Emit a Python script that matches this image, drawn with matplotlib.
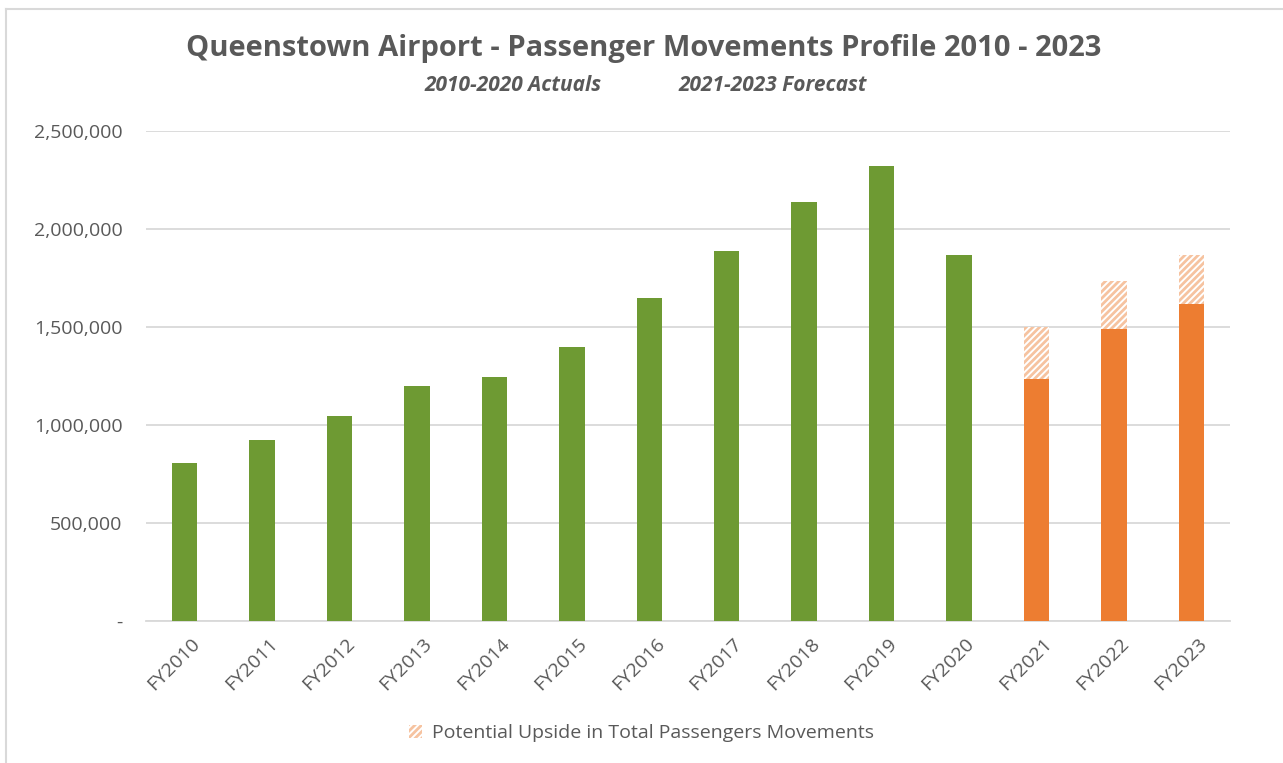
import matplotlib
matplotlib.use("Agg")
import matplotlib.pyplot as plt
import matplotlib.transforms as mtransforms
from matplotlib.lines import Line2D
from matplotlib.patches import Patch

categories = ["FY2010", "FY2011", "FY2012", "FY2013", "FY2014", "FY2015", "FY2016",
              "FY2017", "FY2018", "FY2019", "FY2020", "FY2021", "FY2022", "FY2023"]
actuals = [806000, 923000, 1046000, 1199000, 1245000, 1398000, 1648000,
           1888000, 2138000, 2321000, 1867000, 0, 0, 0]
forecast = [0, 0, 0, 0, 0, 0, 0, 0, 0, 0, 0, 1235000, 1490000, 1617000]
upside = [0, 0, 0, 0, 0, 0, 0, 0, 0, 0, 0, 265000, 245000, 250000]
yticks = [0, 500000, 1000000, 1500000, 2000000, 2500000]

plt.rcParams['font.family'] = ['Open Sans', 'DejaVu Sans']
plt.rcParams['hatch.linewidth'] = 2.0
plt.rcParams['hatch.color'] = '#F6C3A0'

GREEN = '#6E9A33'
ORANGE = '#ED7D31'
TEXT = '#595959'

fig = plt.figure(figsize=(12.83, 7.63), dpi=100)
ax = fig.add_axes([0.1138, 0.1861, 0.8449, 0.6422])

x = list(range(len(categories)))
w = 0.33
ax.bar(x, actuals, width=w, color=GREEN, zorder=3)
ax.bar(x, forecast, width=w, color=ORANGE, zorder=3)
ax.bar(x, upside, width=w, bottom=forecast, facecolor='white',
       edgecolor='#F6C3A0', hatch='/////', linewidth=0, zorder=3)

ax.set_xlim(-0.5, len(categories) - 0.5)
ax.set_ylim(0, 2500000)
ax.set_yticks(yticks)
ax.set_yticklabels(['-' if v == 0 else f"{v:,}" for v in yticks])
ax.set_xticks(x)
ax.set_xticklabels(categories, rotation=45, ha='right', rotation_mode='anchor')
ax.tick_params(axis='both', length=0, colors=TEXT, labelsize=14)
ax.tick_params(axis='y', pad=17)
ax.tick_params(axis='x', pad=10)
offset = mtransforms.ScaledTranslation(6 / 100, 0, fig.dpi_scale_trans)
for lbl in ax.get_xticklabels():
    lbl.set_transform(lbl.get_transform() + offset)
ax.grid(axis='y', color='#D9D9D9', linewidth=1.3, zorder=0)
for s in ['top', 'right', 'left']:
    ax.spines[s].set_visible(False)
ax.spines['bottom'].set_color('#D9D9D9')
ax.spines['bottom'].set_linewidth(1.3)

fig.text(0.502, 0.936, "Queenstown Airport - Passenger Movements Profile 2010 - 2023",
         ha='center', va='center', fontsize=21, fontweight='bold', color=TEXT)
fig.text(0.40, 0.888, "2010-2020 Actuals", ha='center', va='center',
         fontsize=15, fontweight='bold', style='italic', color=TEXT)
fig.text(0.602, 0.888, "2021-2023 Forecast", ha='center', va='center',
         fontsize=15, fontweight='bold', style='italic', color=TEXT)

handle = Patch(facecolor='white', edgecolor='#F6C3A0', hatch='/////', linewidth=0)
fig.legend([handle], ["Potential Upside in Total Passengers Movements"],
           loc='center', bbox_to_anchor=(0.5, 0.039), frameon=False,
           fontsize=14, labelcolor=TEXT, handlelength=0.7, handleheight=0.7,
           handletextpad=0.5)

# chart frame (top and left edges visible)
fig.add_artist(Line2D([6 / 1283, 1.0], [1 - 9 / 763, 1 - 9 / 763],
                      transform=fig.transFigure, color='#D9D9D9', linewidth=1.5))
fig.add_artist(Line2D([6 / 1283, 6 / 1283], [0.0, 1 - 9 / 763],
                      transform=fig.transFigure, color='#D9D9D9', linewidth=1.5))

fig.savefig("out.png", dpi=100, facecolor='white')
